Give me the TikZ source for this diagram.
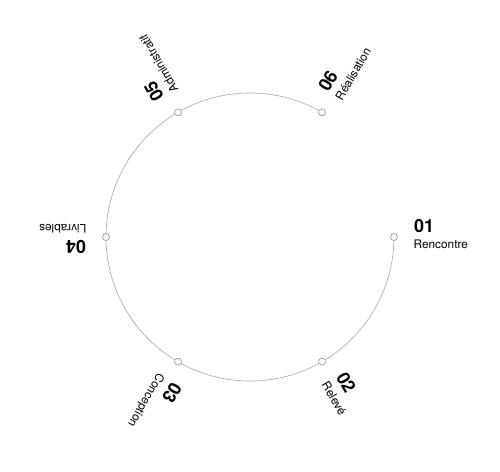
\documentclass[tikz,border=0pt]{standalone}
\usepackage{fontspec}
\setmainfont{TeX Gyre Heros}
\begin{document}
\begin{tikzpicture}[x=1pt,y=1pt,
  stage/.style={circle, draw=gray!90, fill=white, line width=0.6pt, inner sep=0pt, minimum size=7pt},
  num/.style={font=\fontsize{18}{18}\selectfont\bfseries, inner sep=0pt, anchor=base west},
  lab/.style={font=\fontsize{11.8}{12}\selectfont, inner sep=0pt, anchor=base west}]
  \useasboundingbox (0,0) rectangle (500,471);

  % Centre of the cycle
  \coordinate (c) at (250,234);

  % Cycle
  \draw[gray!70, line width=0.6pt] (c) ++(0:144) arc[start angle=0, end angle=-300, radius=144];

  % Stages
  \foreach \ang/\n/\txt in {0/01/Rencontre, -60/02/Relevé, -120/03/Conception,
                            180/04/Livrables, 120/05/Administratif, 60/06/Réalisation}{
    \begin{scope}[shift={(c)}, rotate=\ang, transform shape]
      \node[stage] (s\n) at (144,0) {};
      \node[num] (n\n) at (164,4) {\n};
      \node[lab] (l\n) at (163.5,-12) {\txt};
    \end{scope}
  }

\end{tikzpicture}
\end{document}
